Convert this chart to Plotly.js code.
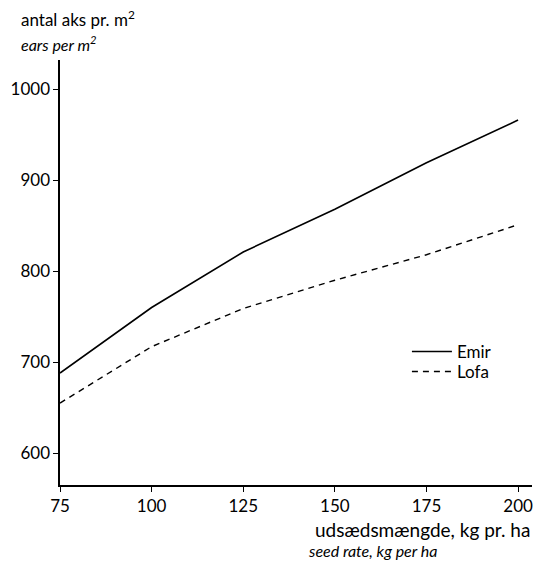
<!DOCTYPE html>
<html>
<head>
<meta charset="utf-8">
<script src="https://cdn.plot.ly/plotly-3.0.1.min.js"></script>
<style>html,body{margin:0;padding:0;background:#fff;}#chart{width:544px;height:561px;}</style>
</head>
<body>
<div id="chart"></div>
<script>
var seedRate = [75, 100, 125, 150, 175, 200];
var emir = [688, 760, 821, 868, 919, 966];
var lofa = [655, 717, 759, 790, 818, 851];
var xTicks = [75, 100, 125, 150, 175, 200];
var yTicks = [600, 700, 800, 900, 1000];

var F = 'Lato, "Open Sans", sans-serif';

var traces = [
  {x: seedRate, y: emir, name: 'Emir', type: 'scatter', mode: 'lines', legend: 'legend',
   line: {color: '#000', width: 1.6}},
  {x: seedRate, y: lofa, name: 'Lofa', type: 'scatter', mode: 'lines', legend: 'legend2',
   line: {color: '#000', width: 1.4, dash: '6px,5px'}}
];

var legBase = {xanchor: 'left', yanchor: 'middle', bgcolor: 'rgba(0,0,0,0)',
               font: {size: 17, family: F}, itemwidth: 40};

var layout = {
  width: 544, height: 561,
  margin: {l: 60, r: 12, t: 60, b: 76},
  paper_bgcolor: '#fff', plot_bgcolor: '#fff',
  font: {family: F, color: '#000', size: 17},
  showlegend: true,
  legend: Object.assign({}, legBase, {x: 0.735, y: 0.313}),
  legend2: Object.assign({}, legBase, {x: 0.735, y: 0.266}),
  xaxis: {range: [75, 203.8], tickvals: xTicks, ticktext: xTicks.map(String),
          showline: true, linecolor: '#000', linewidth: 1.6, showgrid: false,
          zeroline: false, ticks: 'outside', ticklen: 5, tickcolor: '#000',
          tickfont: {size: 17}},
  yaxis: {range: [565, 1032], tickvals: yTicks, ticktext: yTicks.map(String),
          showline: true, linecolor: '#000', linewidth: 1.6, showgrid: false,
          zeroline: false, ticks: 'outside', ticklen: 5, tickcolor: '#000',
          tickfont: {size: 17}},
  annotations: [
    {text: 'antal aks pr. m<sup>2</sup>', xref: 'paper', yref: 'paper',
     x: 0, xshift: -41, y: 1, yshift: 42, xanchor: 'left', yanchor: 'middle',
     showarrow: false, font: {size: 17, family: F}},
    {text: '<i>ears per m<sup>2</sup></i>', xref: 'paper', yref: 'paper',
     x: 0, xshift: -41, y: 1, yshift: 17, xanchor: 'left', yanchor: 'middle',
     showarrow: false, font: {size: 16, family: F}},
    {text: 'udsædsmængde, kg pr. ha', xref: 'paper', yref: 'paper',
     x: 1, xshift: 0, y: 0, yshift: -44, xanchor: 'right', yanchor: 'middle',
     showarrow: false, font: {size: 19, family: F}},
    {text: '<i>seed rate, kg per ha</i>', xref: 'paper', yref: 'paper',
     x: 1, xshift: -226, y: 0, yshift: -65, xanchor: 'left', yanchor: 'middle',
     showarrow: false, font: {size: 16, family: F}}
  ]
};

Plotly.newPlot('chart', traces, layout, {displayModeBar: false, staticPlot: true});
</script>
</body>
</html>
